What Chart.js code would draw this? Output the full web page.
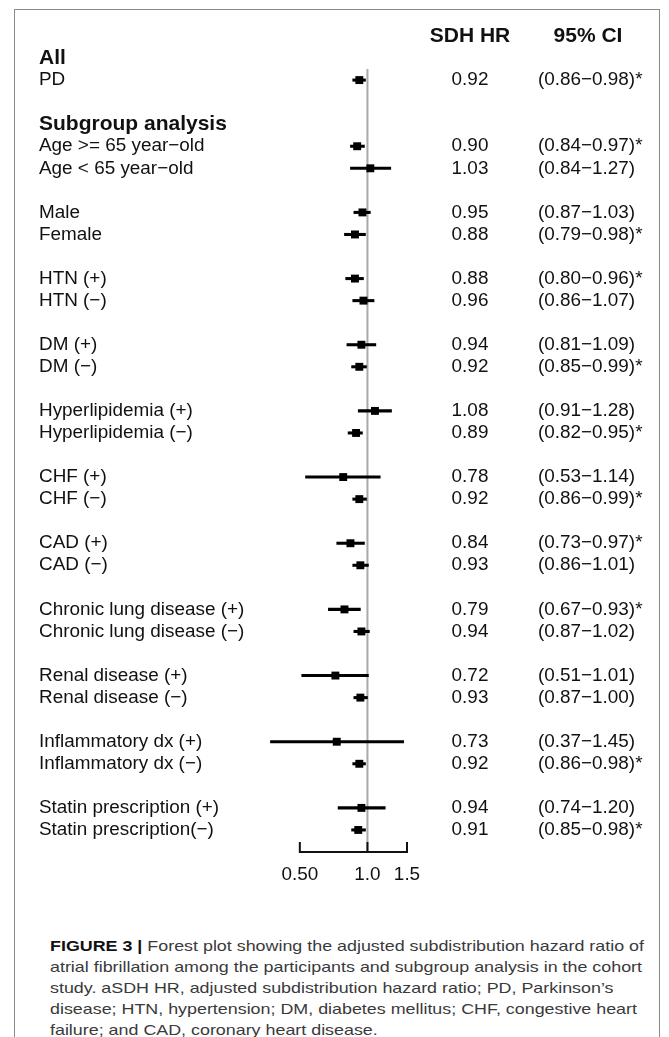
<!DOCTYPE html>
<html>
<head>
<meta charset="utf-8">
<script src="https://cdn.jsdelivr.net/npm/chart.js@4.4.1/dist/chart.umd.min.js"></script>
<style>
  html, body { margin: 0; padding: 0; background: #fff; }
  #page { position: relative; width: 669px; height: 1037px; overflow: hidden; font-family: "Liberation Sans", Arial, sans-serif; }
  #frame { position: absolute; left: 14px; top: 9px; width: 646px; height: 1100px; border: 1.5px solid #8a8a8a; box-sizing: border-box; }
  #plot { position: absolute; left: 0; top: 0; width: 669px; height: 900px; }
  #caption { position: absolute; left: 50px; top: 935px; font-size: 15px; line-height: 21px; color: #3a3a3a; white-space: nowrap; transform-origin: 0 0; }
  #caption b { color: #111; }
</style>
</head>
<body>
<div id="page">
  <div id="frame"></div>
  <div id="plot"><canvas id="forest"></canvas></div>
  <div id="caption">
    <span id="cap1"><b>FIGURE 3 |</b> Forest plot showing the adjusted subdistribution hazard ratio of</span><br>
    atrial fibrillation among the participants and subgroup analysis in the cohort<br>
    study. aSDH HR, adjusted subdistribution hazard ratio; PD, Parkinson’s<br>
    disease; HTN, hypertension; DM, diabetes mellitus; CHF, congestive heart<br>
    failure; and CAD, coronary heart disease.
  </div>
</div>
<script>
// data
const groups = [
    "PD",
    "Age >= 65 year\u2212old", "Age < 65 year\u2212old",
    "Male", "Female",
    "HTN (+)", "HTN (\u2212)",
    "DM (+)", "DM (\u2212)",
    "Hyperlipidemia (+)", "Hyperlipidemia (\u2212)",
    "CHF (+)", "CHF (\u2212)",
    "CAD (+)", "CAD (\u2212)",
    "Chronic lung disease (+)", "Chronic lung disease (\u2212)",
    "Renal disease (+)", "Renal disease (\u2212)",
    "Inflammatory dx (+)", "Inflammatory dx (\u2212)",
    "Statin prescription (+)", "Statin prescription(\u2212)"
];
const hr    = [0.92, 0.90, 1.03, 0.95, 0.88, 0.88, 0.96, 0.94, 0.92, 1.08, 0.89, 0.78, 0.92, 0.84, 0.93, 0.79, 0.94, 0.72, 0.93, 0.73, 0.92, 0.94, 0.91];
const lower = [0.86, 0.84, 0.84, 0.87, 0.79, 0.80, 0.86, 0.81, 0.85, 0.91, 0.82, 0.53, 0.86, 0.73, 0.86, 0.67, 0.87, 0.51, 0.87, 0.37, 0.86, 0.74, 0.85];
const upper = [0.98, 0.97, 1.27, 1.03, 0.98, 0.96, 1.07, 1.09, 0.99, 1.28, 0.95, 1.14, 0.99, 0.97, 1.01, 0.93, 1.02, 1.01, 1.00, 1.45, 0.98, 1.20, 0.98];
const signif = [true, true, false, false, true, true, false, false, true, false, true, false, true, true, false, true, false, false, false, false, true, false, true];
const sectionTitles = ["All", "Subgroup analysis"];
const columnTitles = ["SDH HR", "95% CI"];
const xTicks = [0.5, 1.0, 1.5];
const xTickLabels = ["0.50", "1.0", "1.5"];

const FONT = "'Liberation Sans', Arial, sans-serif";
const TXT = 18.9;
Chart.defaults.font.family = FONT;

// row slots: PD alone, then pairs with a blank line between them
function rowOf(i) {
    if (i === 0) return 0;
    const k = i - 1;
    return 3 + Math.floor(k / 2) * 3 + (k % 2);
}
const titleRows = [-1, 2];

const labelAt = {};
titleRows.forEach((r, j) => labelAt[r] = sectionTitles[j]);
groups.forEach((g, i) => labelAt[rowOf(i)] = g);

const ciText = groups.map((g, i) =>
    "(" + lower[i].toFixed(2) + "\u2212" + upper[i].toFixed(2) + ")" + (signif[i] ? "*" : ""));

const extras = {
    id: "extras",
    beforeDatasetsDraw(chart) {
        const {ctx, scales: {x, y}} = chart;
        const px = x.getPixelForValue(1);
        ctx.save();
        ctx.strokeStyle = "#a9a9a9";
        ctx.lineWidth = 2;
        ctx.beginPath();
        ctx.moveTo(px, y.getPixelForValue(-0.5));
        ctx.lineTo(px, y.bottom);
        ctx.stroke();
        ctx.restore();
    },
    afterDatasetsDraw(chart) {
        const {ctx, scales: {x, y}} = chart;
        ctx.save();
        // axis bracket
        const yb = y.bottom;
        ctx.strokeStyle = "#111";
        ctx.lineWidth = 2;
        ctx.beginPath();
        ctx.moveTo(x.getPixelForValue(xTicks[0]) - 1, yb);
        ctx.lineTo(x.getPixelForValue(xTicks[xTicks.length - 1]) + 1, yb);
        xTicks.forEach(v => {
            const p = x.getPixelForValue(v);
            ctx.moveTo(p, yb);
            ctx.lineTo(p, yb - 10);
        });
        ctx.stroke();

        // column headers
        ctx.fillStyle = "#111";
        ctx.textBaseline = "middle";
        ctx.font = "bold 21px " + FONT;
        ctx.textAlign = "center";
        const yh = y.getPixelForValue(-2);
        ctx.fillText(columnTitles[0], 470, yh);
        ctx.fillText(columnTitles[1], 588, yh);

        // value columns
        ctx.font = TXT + "px " + FONT;
        groups.forEach((g, i) => {
            const yy = y.getPixelForValue(rowOf(i));
            ctx.textAlign = "center";
            ctx.fillText(hr[i].toFixed(2), 470, yy);
            ctx.textAlign = "left";
            ctx.fillText(ciText[i], 538, yy);
        });
        ctx.restore();
    }
};

new Chart(document.getElementById("forest"), {
    type: "bar",
    plugins: [extras],
    data: {
        datasets: [
            {
                type: "line",
                data: groups.map((g, i) => ({x: hr[i], y: rowOf(i)})),
                showLine: false,
                pointStyle: "rect",
                pointRadius: 5.6,
                pointBackgroundColor: "#000",
                pointBorderWidth: 0,
                order: 0
            },
            {
                type: "bar",
                data: groups.map((g, i) => ({x: [lower[i], upper[i]], y: rowOf(i)})),
                backgroundColor: "#000",
                barThickness: 2.4,
                borderWidth: 0,
                order: 1
            }
        ]
    },
    options: {
        indexAxis: "y",
        responsive: true,
        maintainAspectRatio: false,
        animation: false,
        events: [],
        layout: {padding: {left: 39, right: 262, top: 47, bottom: 18}},
        plugins: {legend: {display: false}, tooltip: {enabled: false}},
        scales: {
            x: {
                type: "logarithmic",
                min: 0.31,
                max: 1.5,
                offset: false,
                beginAtZero: false,
                grid: {display: false, drawTicks: false},
                border: {display: false},
                afterBuildTicks: s => { s.ticks = xTicks.map(v => ({value: v})); },
                afterFit: s => { s.height = 30; },
                ticks: {
                    autoSkip: false,
                    maxRotation: 0,
                    padding: 11,
                    color: "#111",
                    font: {size: TXT},
                    callback: (v, i) => xTickLabels[i]
                }
            },
            y: {
                type: "linear",
                reverse: true,
                min: -1.5,
                max: 35,
                offset: false,
                grid: {display: false, drawTicks: false},
                border: {display: false},
                afterBuildTicks: s => {
                    s.ticks = Object.keys(labelAt).map(Number).sort((a, b) => a - b).map(v => ({value: v}));
                },
                afterFit: s => { s.width = 211; },
                ticks: {
                    autoSkip: false,
                    crossAlign: "far",
                    padding: 0,
                    color: "#111",
                    font: ctx => titleRows.includes(ctx.tick && ctx.tick.value)
                        ? {size: 21, weight: "bold"}
                        : {size: TXT},
                    callback: v => labelAt[v] || ""
                }
            }
        }
    }
});

// squeeze the caption to the narrow face used in the figure
const cap = document.getElementById("caption");
const w = document.getElementById("cap1").getBoundingClientRect().width;
cap.style.transform = "scaleX(" + (594 / w) + ")";
</script>
</body>
</html>
